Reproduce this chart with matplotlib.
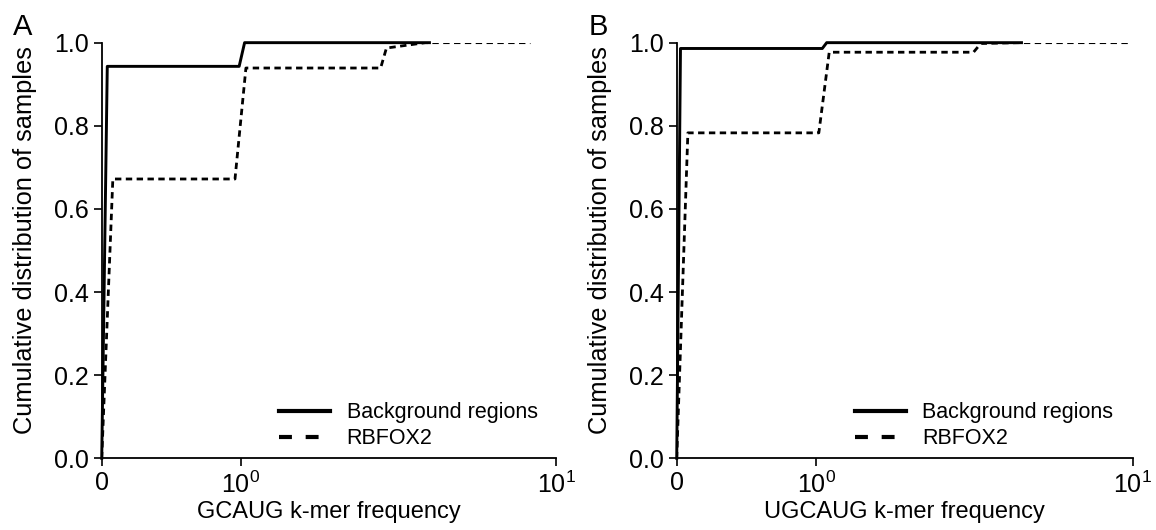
import matplotlib
matplotlib.use('Agg')
import matplotlib.pyplot as plt
from matplotlib.ticker import FixedLocator, FixedFormatter, FormatStrFormatter

plt.rcParams['font.family'] = ['Liberation Sans', 'DejaVu Sans']
plt.rcParams['mathtext.default'] = 'regular'

# Data
gcaug_bg_x = [0, 0.04, 0.99, 1.03, 3.97]
gcaug_bg_y = [0, 0.943, 0.943, 1.0, 1.0]
gcaug_rb_x = [0, 0.08, 0.96, 1.04, 2.78, 2.9, 3.85, 8.3]
gcaug_rb_y = [0, 0.672, 0.672, 0.939, 0.939, 0.987, 1.0, 1.0]

ugcaug_bg_x = [0, 0.027, 1.046, 1.08, 4.45]
ugcaug_bg_y = [0, 0.986, 0.986, 1.0, 1.0]
ugcaug_rb_x = [0, 0.08, 1.02, 1.10, 3.14, 3.31, 4.4, 9.9]
ugcaug_rb_y = [0, 0.783, 0.783, 0.977, 0.977, 0.998, 1.0, 1.0]

xticks = [0, 1, 10]
xticklabels = ['0', '$10^0$', '$10^1$']
yticks = [0.0, 0.2, 0.4, 0.6, 0.8, 1.0]

panels = [
    ('A', 'GCAUG k-mer frequency', gcaug_bg_x, gcaug_bg_y, gcaug_rb_x, gcaug_rb_y),
    ('B', 'UGCAUG k-mer frequency', ugcaug_bg_x, ugcaug_bg_y, ugcaug_rb_x, ugcaug_rb_y),
]

fig = plt.figure(figsize=(11.56, 5.3), dpi=100)
axes_rects = [[0.0880, 0.1353, 0.3930, 0.7842], [0.5854, 0.1353, 0.3946, 0.7842]]
letter_x = [0.011, 0.509]

for i, (letter, xlabel, bx, by, rx, ry) in enumerate(panels):
    ax = fig.add_axes(axes_rects[i])
    ax.set_xscale('symlog', linthresh=1, linscale=0.396)
    ax.plot(bx, by, color='black', lw=2.1, clip_on=False, label='Background regions')
    ax.plot(rx, ry, color='black', lw=2.0, dashes=(2.3, 1.6), label='RBFOX2')
    ax.set_xlim(0, 10)
    ax.set_ylim(0, 1.0)

    ax.xaxis.set_major_locator(FixedLocator(xticks))
    ax.xaxis.set_major_formatter(FixedFormatter(xticklabels))
    ax.xaxis.set_minor_locator(FixedLocator([]))
    ax.yaxis.set_major_locator(FixedLocator(yticks))
    ax.yaxis.set_major_formatter(FormatStrFormatter('%.1f'))

    for side in ['top', 'right']:
        ax.spines[side].set_visible(False)
    for side in ['left', 'bottom']:
        ax.spines[side].set_linewidth(1.3)
    ax.tick_params(axis='both', length=6, width=1.2, labelsize=18, pad=3.5)

    ax.set_xlabel(xlabel, fontsize=17, labelpad=2)
    ax.set_ylabel('Cumulative distribution of samples', fontsize=18.3)
    ax.yaxis.set_label_coords(-0.142, 0.525)

    leg = ax.legend(loc='lower left', bbox_to_anchor=(0.391, 0.022), frameon=False,
                    fontsize=15.5, handlelength=2.35, handletextpad=0.78,
                    labelspacing=0.22, borderpad=0, borderaxespad=0)
    for ln in leg.get_lines():
        ln.set_linewidth(3.0)
    leg.get_lines()[1].set_dashes((3.1, 3.3))

    fig.text(letter_x[i], 0.975, letter, fontsize=21, ha='left', va='top')

fig.savefig('out.png', dpi=100)
